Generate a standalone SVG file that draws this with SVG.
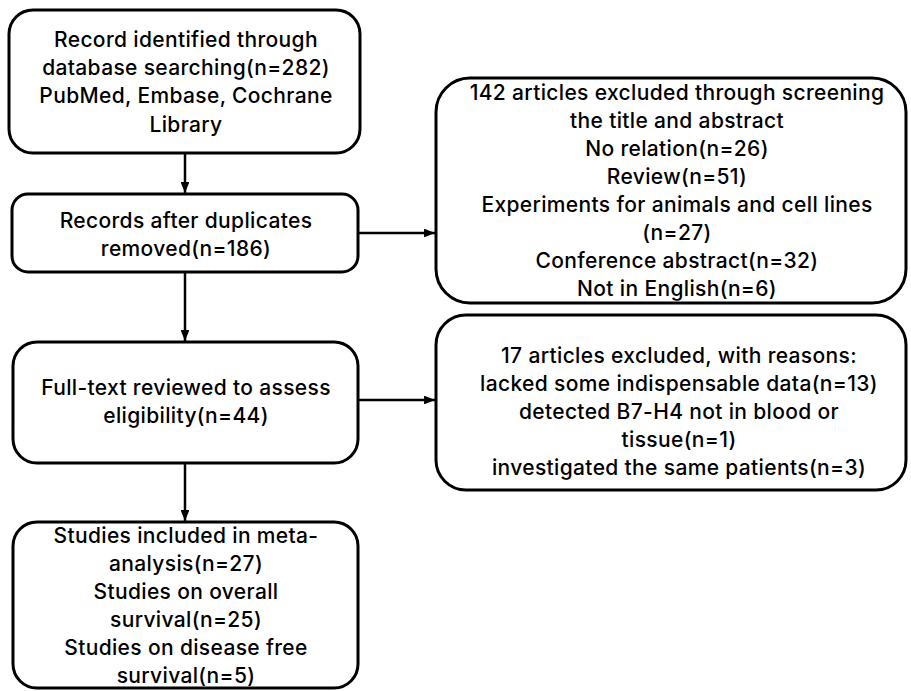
<svg xmlns="http://www.w3.org/2000/svg" width="911" height="691" viewBox="0 0 911 691">
<defs>
<style>
.box{fill:#fff;stroke:#000;stroke-width:3}
.t{font-family:Inter,"Noto Sans","DejaVu Sans",sans-serif;font-size:21px;font-weight:500;letter-spacing:0.35px;fill:#000;text-anchor:middle}
.c{stroke:#000;stroke-width:2.5;fill:none}
</style>
<marker id="ah" viewBox="0 0 10 8" refX="10" refY="4" markerWidth="4.4" markerHeight="3.5" orient="auto" markerUnits="strokeWidth">
<path d="M0,0 L10,4 L0,8 z" fill="#000"/>
</marker>
</defs>
<rect width="911" height="691" fill="#fff"/>
<g id="connectors">
<line class="c" x1="185" y1="153" x2="185" y2="193" marker-end="url(#ah)"/>
<line class="c" x1="185" y1="272" x2="185" y2="341" marker-end="url(#ah)"/>
<line class="c" x1="185" y1="463" x2="185" y2="521" marker-end="url(#ah)"/>
<line class="c" x1="358" y1="233" x2="435" y2="233" marker-end="url(#ah)"/>
<line class="c" x1="358" y1="400" x2="435" y2="400" marker-end="url(#ah)"/>
</g>
<g id="n1">
<rect class="box" x="9" y="10" width="351" height="143" rx="24"/>
<text class="t" x="186" y="47">Record identified through</text>
<text class="t" x="186" y="75">database searching(n=282)</text>
<text class="t" x="186" y="103">PubMed, Embase, Cochrane</text>
<text class="t" x="186" y="132">Library</text>
</g>
<g id="n2">
<rect class="box" x="12" y="194" width="346" height="78" rx="16"/>
<text class="t" x="186" y="228">Records after duplicates</text>
<text class="t" x="186" y="256">removed(n=186)</text>
</g>
<g id="n3">
<rect class="box" x="13" y="342" width="345" height="121" rx="24"/>
<text class="t" x="186" y="395">Full-text reviewed to assess</text>
<text class="t" x="186" y="423">eligibility(n=44)</text>
</g>
<g id="n4">
<rect class="box" x="13" y="522" width="345" height="166" rx="24"/>
<text class="t" x="186" y="543">Studies included in meta-</text>
<text class="t" x="186" y="571">analysis(n=27)</text>
<text class="t" x="186" y="599">Studies on overall</text>
<text class="t" x="186" y="627">survival(n=25)</text>
<text class="t" x="186" y="655">Studies on disease free</text>
<text class="t" x="186" y="683">survival(n=5)</text>
</g>
<g id="n5">
<rect class="box" x="436" y="78" width="470" height="225" rx="34"/>
<text class="t" x="677" y="100">142 articles excluded through screening</text>
<text class="t" x="677" y="128">the title and abstract</text>
<text class="t" x="677" y="156">No relation(n=26)</text>
<text class="t" x="677" y="184">Review(n=51)</text>
<text class="t" x="677" y="212">Experiments for animals and cell lines</text>
<text class="t" x="677" y="240">(n=27)</text>
<text class="t" x="677" y="268">Conference abstract(n=32)</text>
<text class="t" x="677" y="296">Not in English(n=6)</text>
</g>
<g id="n6">
<rect class="box" x="436" y="315" width="470" height="175" rx="30"/>
<text class="t" x="679" y="363">17 articles excluded, with reasons:</text>
<text class="t" x="679" y="391">lacked some indispensable data(n=13)</text>
<text class="t" x="679" y="419">detected B7-H4 not in blood or</text>
<text class="t" x="679" y="447">tissue(n=1)</text>
<text class="t" x="679" y="475">investigated the same patients(n=3)</text>
</g>
</svg>
